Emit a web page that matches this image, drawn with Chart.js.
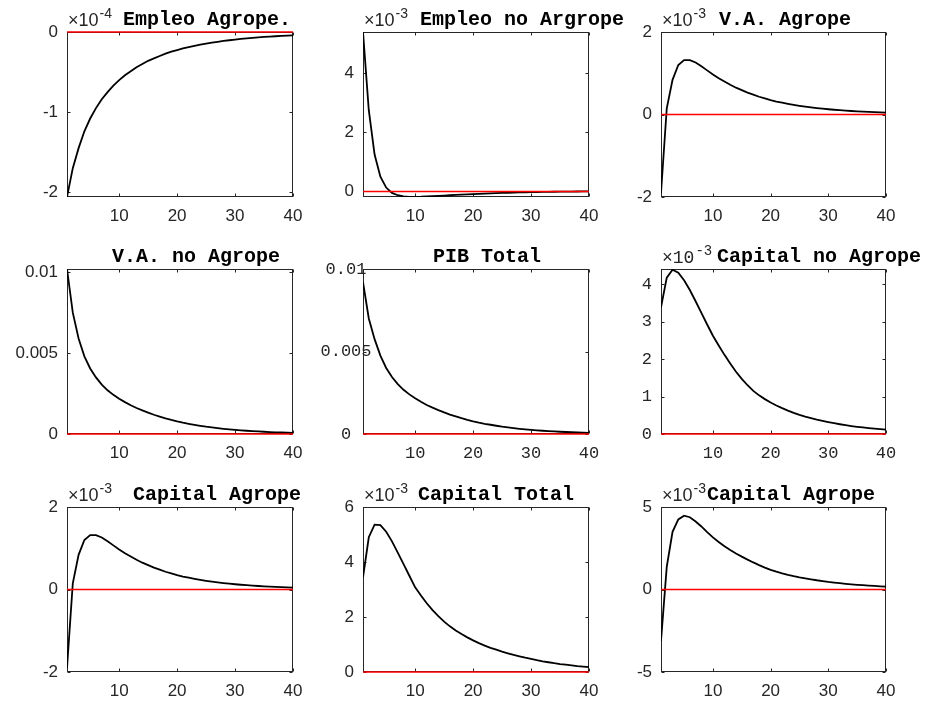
<!DOCTYPE html>
<html lang="es">
<head>
  <meta charset="UTF-8">
  <title>Impulso respuesta</title>
  <script src="https://cdn.jsdelivr.net/npm/chart.js"></script>
  <style>
    body {
      margin: 0;
      background: #fff;
      width: 933px;
      height: 705px;
      position: relative;
      overflow: hidden;
    }
    canvas {
      position: absolute;
    }
  </style>
</head>
<body>

  <script>
    // horizon
    const periods = [1, 2, 3, 4, 5, 6, 7, 8, 9, 10, 11, 12, 13, 14, 15, 16, 17, 18, 19, 20,
                     21, 22, 23, 24, 25, 26, 27, 28, 29, 30, 31, 32, 33, 34, 35, 36, 37, 38, 39, 40];
    const xTicks = [10, 20, 30, 40];

    // responses (in units of the axis multiplier)
    const empleoAgro = [-2.06, -1.70, -1.45, -1.24, -1.08, -0.95, -0.84, -0.75, -0.67, -0.60,
                        -0.54, -0.49, -0.44, -0.40, -0.36, -0.33, -0.30, -0.27, -0.245, -0.225,
                        -0.205, -0.188, -0.172, -0.158, -0.145, -0.133, -0.122, -0.112, -0.103, -0.095,
                        -0.087, -0.080, -0.074, -0.068, -0.062, -0.057, -0.053, -0.049, -0.045, -0.041];
    const empleoNoAgro = [5.40, 2.75, 1.25, 0.50, 0.13, -0.05, -0.13, -0.17, -0.185, -0.185,
                          -0.18, -0.17, -0.16, -0.15, -0.14, -0.13, -0.12, -0.11, -0.10, -0.09,
                          -0.082, -0.074, -0.066, -0.059, -0.052, -0.046, -0.040, -0.035, -0.030, -0.026,
                          -0.022, -0.018, -0.015, -0.012, -0.009, -0.007, -0.005, -0.003, -0.002, 0.000];
    const vaAgro = [-1.90, 0.15, 0.84, 1.20, 1.32, 1.32, 1.26, 1.17, 1.07, 0.97,
                    0.88, 0.80, 0.72, 0.65, 0.59, 0.53, 0.48, 0.43, 0.39, 0.35,
                    0.315, 0.285, 0.257, 0.232, 0.21, 0.19, 0.172, 0.155, 0.14, 0.127,
                    0.115, 0.104, 0.094, 0.085, 0.077, 0.07, 0.063, 0.057, 0.052, 0.047];
    const vaNoAgro = [0.0102, 0.0075, 0.0059, 0.0048, 0.00405, 0.0035, 0.00305, 0.0027, 0.00242, 0.00218,
                      0.00197, 0.00178, 0.00161, 0.00146, 0.00132, 0.00119, 0.00108, 0.00097, 0.00087, 0.00078,
                      0.0007, 0.00063, 0.000565, 0.000505, 0.00045, 0.000405, 0.00036, 0.00032, 0.000285, 0.000255,
                      0.000225, 0.0002, 0.000178, 0.000157, 0.000138, 0.000121, 0.000106, 0.000092, 0.00008, 0.000069];
    const pibTotal = [0.0092, 0.0070, 0.00575, 0.00475, 0.0040, 0.00345, 0.00302, 0.00268, 0.0024, 0.00216,
                      0.00195, 0.00176, 0.0016, 0.00145, 0.00131, 0.00118, 0.00107, 0.00096, 0.00086, 0.00077,
                      0.00069, 0.00062, 0.00056, 0.0005, 0.000445, 0.0004, 0.000355, 0.000316, 0.000281, 0.00025,
                      0.000222, 0.000197, 0.000175, 0.000155, 0.000137, 0.00012, 0.000105, 0.000091, 0.000079, 0.000068];
    const capitalNoAgro = [3.38, 4.17, 4.38, 4.30, 4.10, 3.84, 3.54, 3.23, 2.92, 2.62,
                           2.36, 2.11, 1.88, 1.66, 1.47, 1.30, 1.15, 1.03, 0.93, 0.84,
                           0.76, 0.69, 0.625, 0.565, 0.51, 0.465, 0.425, 0.385, 0.35, 0.318,
                           0.288, 0.26, 0.235, 0.212, 0.192, 0.174, 0.157, 0.142, 0.128, 0.115];
    const capitalAgro = [-1.90, 0.15, 0.84, 1.20, 1.32, 1.32, 1.26, 1.17, 1.07, 0.97,
                         0.88, 0.80, 0.72, 0.65, 0.59, 0.53, 0.48, 0.43, 0.39, 0.35,
                         0.315, 0.285, 0.257, 0.232, 0.21, 0.19, 0.172, 0.155, 0.14, 0.127,
                         0.115, 0.104, 0.094, 0.085, 0.077, 0.07, 0.063, 0.057, 0.052, 0.047];
    const capitalTotal = [3.44, 4.90, 5.36, 5.34, 5.10, 4.75, 4.34, 3.92, 3.50, 3.08,
                          2.78, 2.50, 2.25, 2.03, 1.83, 1.66, 1.51, 1.38, 1.26, 1.15,
                          1.05, 0.96, 0.88, 0.81, 0.74, 0.68, 0.62, 0.57, 0.52, 0.475,
                          0.43, 0.39, 0.355, 0.32, 0.29, 0.265, 0.24, 0.215, 0.195, 0.175];
    const capitalAgro2 = [-3.12, 1.38, 3.50, 4.25, 4.47, 4.38, 4.12, 3.82, 3.48, 3.16,
                          2.88, 2.62, 2.39, 2.18, 1.99, 1.81, 1.64, 1.48, 1.33, 1.19,
                          1.08, 0.98, 0.89, 0.81, 0.74, 0.68, 0.62, 0.56, 0.51, 0.46,
                          0.42, 0.38, 0.345, 0.315, 0.285, 0.26, 0.235, 0.215, 0.195, 0.175];

    const titles = ['Empleo Agrope.', 'Empleo no Argrope', 'V.A. Agrope',
                    'V.A. no Agrope', 'PIB Total', 'Capital no Agrope',
                    'Capital Agrope', 'Capital Total', 'Capital Agrope'];
    const series = [empleoAgro, empleoNoAgro, vaAgro, vaNoAgro, pibTotal, capitalNoAgro,
                    capitalAgro, capitalTotal, capitalAgro2];
    const exponents = ['-4', '-3', '-3', null, null, '-3', '-3', '-3', '-3'];
    const yTicks = [[-2, -1, 0], [0, 2, 4], [-2, 0, 2],
                    [0, 0.005, 0.01], [0, 0.005, 0.01], [0, 1, 2, 3, 4],
                    [-2, 0, 2], [0, 2, 4, 6], [-5, 0, 5]];
    const yLimits = [[-2.06, 0], [-0.19, 5.4], [-2, 2],
                     [0, 0.0102], [0, 0.01], [0, 4.4],
                     [-2, 2], [0, 6], [-5, 5]];

    // layout of the axes boxes on the page
    const colLeft = [67, 363, 661], colRight = [293, 589, 886];
    const rowTop = [32, 269, 507], rowBottom = [197, 434, 672];
    const titleLeft = [123, 420, 719, 112, 433, 717, 133, 418, 707];
    const monoPanels = [4, 5];
    const centeredYLabels = [4]; // courier labels sitting over the axis line

    const SANS = '"Liberation Sans", Arial, sans-serif';
    const MONO = '"Liberation Mono", "Courier New", monospace';
    const AXIS = '#262626';
    const PAD_L = 65, PAD_T = 32, PAD_R = 45, PAD_B = 35;

    // box, inward ticks, title and exponent the way MATLAB draws them
    const matlabAxes = {
      id: 'matlabAxes',
      beforeDatasetsDraw(chart, args, opts) {
        const { ctx, chartArea: a, scales: { x, y } } = chart;
        const L = Math.round(a.left) + 0.5, R = Math.round(a.right) - 0.5;
        const T = Math.round(a.top) + 0.5, B = Math.round(a.bottom) - 0.5;
        ctx.save();
        ctx.strokeStyle = AXIS;
        ctx.lineWidth = 1;
        ctx.strokeRect(L, T, R - L, B - T);
        ctx.beginPath();
        x.ticks.forEach(t => {
          const px = Math.round(x.getPixelForValue(t.value)) + 0.5;
          ctx.moveTo(px, B); ctx.lineTo(px, B - 3);
          ctx.moveTo(px, T); ctx.lineTo(px, T + 3);
        });
        y.ticks.forEach(t => {
          const py = Math.round(y.getPixelForValue(t.value)) + 0.5;
          ctx.moveTo(L, py); ctx.lineTo(L + 3, py);
          ctx.moveTo(R, py); ctx.lineTo(R - 3, py);
        });
        ctx.stroke();
        ctx.restore();
      },
      afterDraw(chart, args, opts) {
        const { ctx, chartArea: a, scales: { y } } = chart;
        ctx.save();
        ctx.textBaseline = 'alphabetic';
        ctx.textAlign = 'left';
        if (opts.exponent) {
          const f = opts.mono ? MONO : SANS;
          ctx.fillStyle = AXIS;
          ctx.font = '18px ' + f;
          const base = '\u00d710';
          ctx.fillText(base, a.left + 1, a.top - 6);
          const w = ctx.measureText(base).width;
          ctx.font = '14px ' + f;
          ctx.fillText(opts.exponent, a.left + 2 + w, a.top - 14);
        }
        if (opts.centerLabels) {
          ctx.fillStyle = AXIS;
          ctx.font = '17px ' + MONO;
          ctx.textAlign = 'center';
          ctx.textBaseline = 'middle';
          y.ticks.forEach(t => {
            ctx.fillText(String(t.value), a.left - 17, y.getPixelForValue(t.value));
          });
          ctx.textAlign = 'left';
          ctx.textBaseline = 'alphabetic';
        }
        ctx.fillStyle = '#000';
        ctx.font = 'bold 20px ' + MONO;
        ctx.fillText(opts.title, opts.titleX, a.top - 7);
        ctx.restore();
      }
    };

    function makePanel(i) {
      const r = Math.floor(i / 3), c = i % 3;
      const boxW = colRight[c] - colLeft[c], boxH = rowBottom[r] - rowTop[r];
      const left = colLeft[c] - PAD_L, top = rowTop[r] - PAD_T;
      const canvas = document.createElement('canvas');
      canvas.width = boxW + PAD_L + PAD_R;
      canvas.height = boxH + PAD_T + PAD_B;
      canvas.style.left = left + 'px';
      canvas.style.top = top + 'px';
      document.body.appendChild(canvas);

      const mono = monoPanels.includes(i);
      const centered = centeredYLabels.includes(i);
      const tickFont = { family: mono ? MONO : SANS, size: 17 };

      new Chart(canvas.getContext('2d'), {
        type: 'line',
        data: {
          datasets: [
            {
              data: [{ x: periods[0], y: 0 }, { x: periods[periods.length - 1], y: 0 }],
              borderColor: '#ff0000',
              borderWidth: 1.5,
              pointRadius: 0,
              clip: 3
            },
            {
              data: periods.map((p, k) => ({ x: p, y: series[i][k] })),
              borderColor: '#000000',
              borderWidth: 1.8,
              pointRadius: 0,
              tension: 0
            }
          ]
        },
        options: {
          responsive: false,
          animation: false,
          layout: { padding: { left: 0, top: PAD_T, right: PAD_R, bottom: 0 } },
          plugins: {
            legend: { display: false },
            tooltip: { enabled: false },
            matlabAxes: {
              title: titles[i],
              titleX: titleLeft[i] - left,
              exponent: exponents[i],
              mono: mono,
              centerLabels: centered
            }
          },
          scales: {
            x: {
              type: 'linear',
              min: periods[0],
              max: periods[periods.length - 1],
              grid: { display: false, drawTicks: false },
              border: { display: false },
              afterBuildTicks: s => { s.ticks = xTicks.map(v => ({ value: v })); },
              afterFit: s => { s.height = PAD_B; },
              ticks: {
                font: tickFont,
                color: AXIS,
                padding: 9,
                maxRotation: 0,
                autoSkip: false,
                callback: v => String(v)
              }
            },
            y: {
              min: yLimits[i][0],
              max: yLimits[i][1],
              grid: { display: false, drawTicks: false },
              border: { display: false },
              afterBuildTicks: s => { s.ticks = yTicks[i].map(v => ({ value: v })); },
              afterFit: s => { s.width = PAD_L; },
              ticks: {
                font: tickFont,
                color: centered ? 'rgba(0,0,0,0)' : AXIS,
                padding: 9,
                autoSkip: false,
                callback: v => String(v)
              }
            }
          }
        },
        plugins: [matlabAxes]
      });
    }

    for (let i = 0; i < 9; i++) makePanel(i);
  </script>

</body>
</html>
